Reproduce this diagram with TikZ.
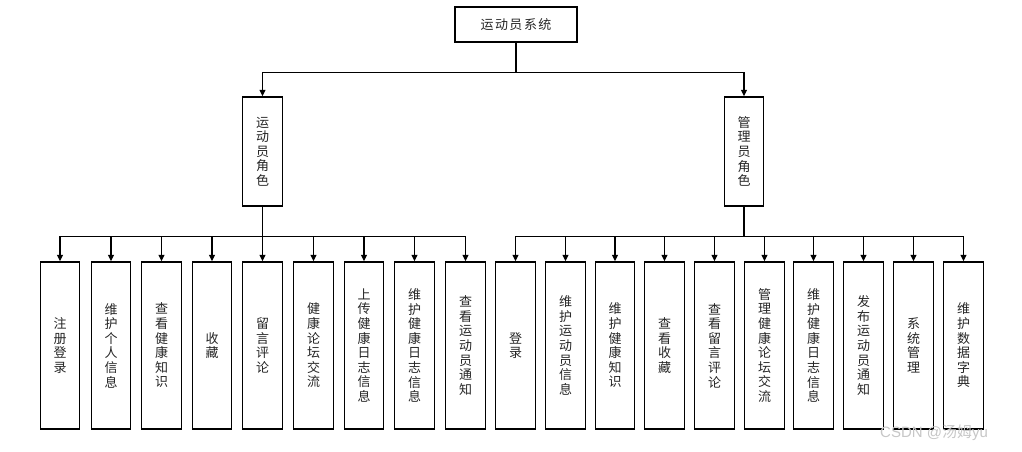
\documentclass[tikz,border=0pt]{standalone}
\usepackage{fontspec}
\setmainfont{Noto Sans CJK SC}
\newfontfamily\wmfont{Liberation Sans}
\usetikzlibrary{arrows.meta}
\tikzset{
  box/.style={draw=black, line width=1.4pt, fill=white, inner sep=0pt, align=center,
    font=\fontsize{13}{14.6}\selectfont, text=black!85},
  topbox/.style={box, minimum width=122pt, minimum height=35pt},
  rolebox/.style={box, minimum width=39.5pt, minimum height=109pt},
  leafbox/.style={box, minimum width=39.5pt, minimum height=167pt},
  arr/.style={draw=black, line width=1.3pt, -{Triangle[width=6pt,length=6.5pt]}}
}
\begin{document}
\begin{tikzpicture}[x=1pt,y=1pt]
\useasboundingbox[fill=white] (0,0) rectangle (1022,-451);
\node[topbox] (top) at (516,-24.5) {运\hspace{1.5pt}动\hspace{1.5pt}员\hspace{1.5pt}系\hspace{1.5pt}统};
\node[rolebox] (rl) at (262.5,-151.5) {运\\动\\员\\角\\色};
\node[rolebox] (rr) at (744,-151.5) {管\\理\\员\\角\\色};
% left leaves
\node[leafbox] (l1) at (60,-345.5) {注\\册\\登\\录};
\node[leafbox] (l2) at (111,-345.5) {维\\护\\个\\人\\信\\息};
\node[leafbox] (l3) at (161.5,-345.5) {查\\看\\健\\康\\知\\识};
\node[leafbox] (l4) at (212,-345.5) {收\\藏};
\node[leafbox] (l5) at (262.5,-345.5) {留\\言\\评\\论};
\node[leafbox] (l6) at (313.5,-345.5) {健\\康\\论\\坛\\交\\流};
\node[leafbox] (l7) at (364,-345.5) {上\\传\\健\\康\\日\\志\\信\\息};
\node[leafbox] (l8) at (414.5,-345.5) {维\\护\\健\\康\\日\\志\\信\\息};
\node[leafbox] (l9) at (465.5,-345.5) {查\\看\\运\\动\\员\\通\\知};
% right leaves
\node[leafbox] (r1) at (515.5,-345.5) {登\\录};
\node[leafbox] (r2) at (565.5,-345.5) {维\\护\\运\\动\\员\\信\\息};
\node[leafbox] (r3) at (615,-345.5) {维\\护\\健\\康\\知\\识};
\node[leafbox] (r4) at (664.5,-345.5) {查\\看\\收\\藏};
\node[leafbox] (r5) at (714.5,-345.5) {查\\看\\留\\言\\评\\论};
\node[leafbox] (r6) at (764.5,-345.5) {管\\理\\健\\康\\论\\坛\\交\\流};
\node[leafbox] (r7) at (813.5,-345.5) {维\\护\\健\\康\\日\\志\\信\\息};
\node[leafbox] (r8) at (863.5,-345.5) {发\\布\\运\\动\\员\\通\\知};
\node[leafbox] (r9) at (913.5,-345.5) {系\\统\\管\\理};
\node[leafbox] (r10) at (963.5,-345.5) {维\\护\\数\\据\\字\\典};
% connectors
\foreach \t in {rl,rr}
  \draw[arr] (top.south) -- ++(0,-30) -| (\t.north);
\foreach \t in {l1,l2,l3,l4,l5,l6,l7,l8,l9}
  \draw[arr] (rl.south) -- ++(0,-30) -| (\t.north);
\foreach \t in {r1,r2,r3,r4,r5,r6,r7,r8,r9,r10}
  \draw[arr] (rr.south) -- ++(0,-30) -| (\t.north);
% watermark
\node[anchor=west, inner sep=0pt, text=black!22, font=\fontsize{15}{15}\selectfont] (wm) at (880,-433) {{\wmfont CSDN @}汤姆{\wmfont yu}};
\end{tikzpicture}
\end{document}
